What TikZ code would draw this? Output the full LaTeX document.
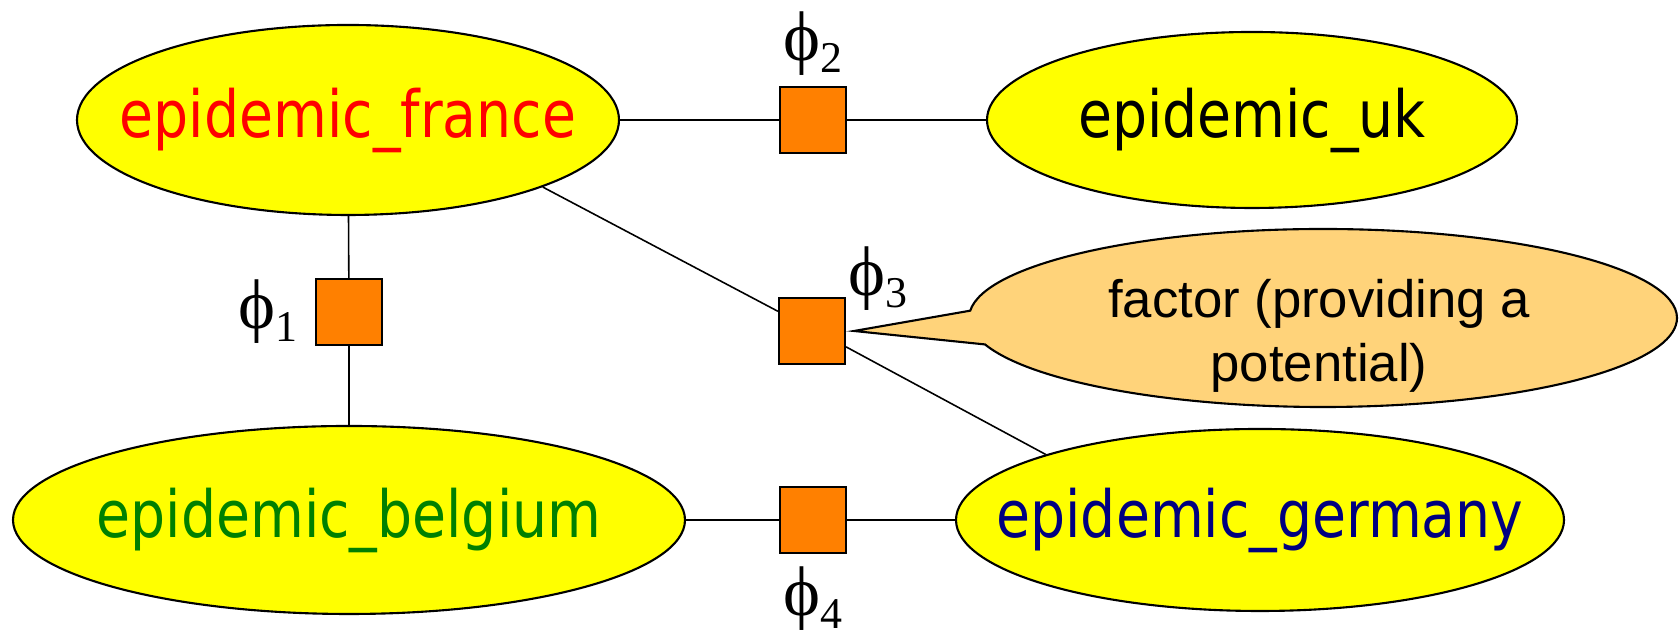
\documentclass[tikz,border=0pt]{standalone}
\usepackage{fontspec}
\usepackage{amsmath}
\usepackage{xcolor}
\usepackage{tikz}
\usetikzlibrary{positioning,shapes.geometric,shapes.callouts}

\newfontfamily\varfont{DejaVu Sans}[FakeStretch=0.85]
\newfontfamily\notefont{Liberation Sans}
\newfontfamily\phifont{Liberation Serif}

\definecolor{varyellow}{RGB}{255,255,0}
\definecolor{factororange}{RGB}{255,128,0}
\definecolor{notefill}{RGB}{255,211,122}
\definecolor{navyblue}{RGB}{0,0,128}
\definecolor{leafgreen}{RGB}{0,128,0}

% upright phi with a lowered index
\newcommand{\philbl}[1]{{\phifont\fontsize{20}{22}\selectfont \symbol{"03D5}\raisebox{-3.6pt}{\fontsize{12.5}{14}\selectfont #1}}}

\tikzset{
    varnode/.style={ellipse, draw, line width=0.6pt, fill=varyellow, inner ysep=0pt, inner xsep=-2.6cm,
        font=\varfont\fontsize{18.5}{22}\selectfont},
    factorbox/.style={rectangle, draw, line width=0.6pt, fill=factororange,
        minimum size=0.66cm, inner sep=0pt},
    philabel/.style={inner sep=0pt},
    link/.style={line width=0.45pt}
}

\begin{document}
\begin{tikzpicture}
    \useasboundingbox (0,0) rectangle (16.8,6.36);

    % the four variables
    \node[varnode, minimum width=5.42cm, minimum height=1.90cm, text=red] (france) at (3.48,5.16) {epidemic\_france};
    \node[varnode, minimum width=5.30cm, minimum height=1.76cm] (uk) at (12.52,5.16) {epidemic\_uk};
    \node[varnode, minimum width=6.72cm, minimum height=1.88cm, text=leafgreen] (belgium) at (3.49,1.16) {epidemic\_belgium};
    \node[varnode, minimum width=6.08cm, minimum height=1.82cm, text=navyblue] (germany) at (12.60,1.16) {epidemic\_germany};

    % factors
    \node[factorbox] (phi1) at (3.49,3.24) {};
    \node[factorbox] (phi2) at (8.13,5.16) {};
    \node[factorbox] (phi3) at (8.12,3.05) {};
    \node[factorbox] (phi4) at (8.13,1.16) {};

    \node[philabel, left=0.17cm of phi1] (phi1lbl) {\philbl{1}};
    \node[philabel, above=0.1cm of phi2] (phi2lbl) {\philbl{2}};
    \node[philabel, above right=-0.14cm and 0.02cm of phi3] (phi3lbl) {\philbl{3}};
    \node[philabel, below=0.12cm of phi4] (phi4lbl) {\philbl{4}};

    \draw[link] (france) -- (phi2) -- (uk);
    \draw[link] (france) -- (phi1) -- (belgium);
    \draw[link] (belgium) -- (phi4) -- (germany);
    \draw[link] (france.-19) -- (phi3.150);
    \draw[link] (phi3.-25) -- (germany.163);

    % speech bubble
    \coordinate[right=0.08cm of phi3] (tip);
    \node[ellipse callout, draw, line width=0.6pt, fill=notefill, minimum width=7.08cm, minimum height=1.78cm,
        callout absolute pointer=(tip), callout pointer arc=22] (bubble) at (13.23,3.18) {};
    \node[align=center, inner sep=0pt, font=\notefont\fontsize{15}{18.2}\selectfont] (note) at (13.19,3.00)
        {factor (providing a\\potential)};
\end{tikzpicture}
\end{document}
